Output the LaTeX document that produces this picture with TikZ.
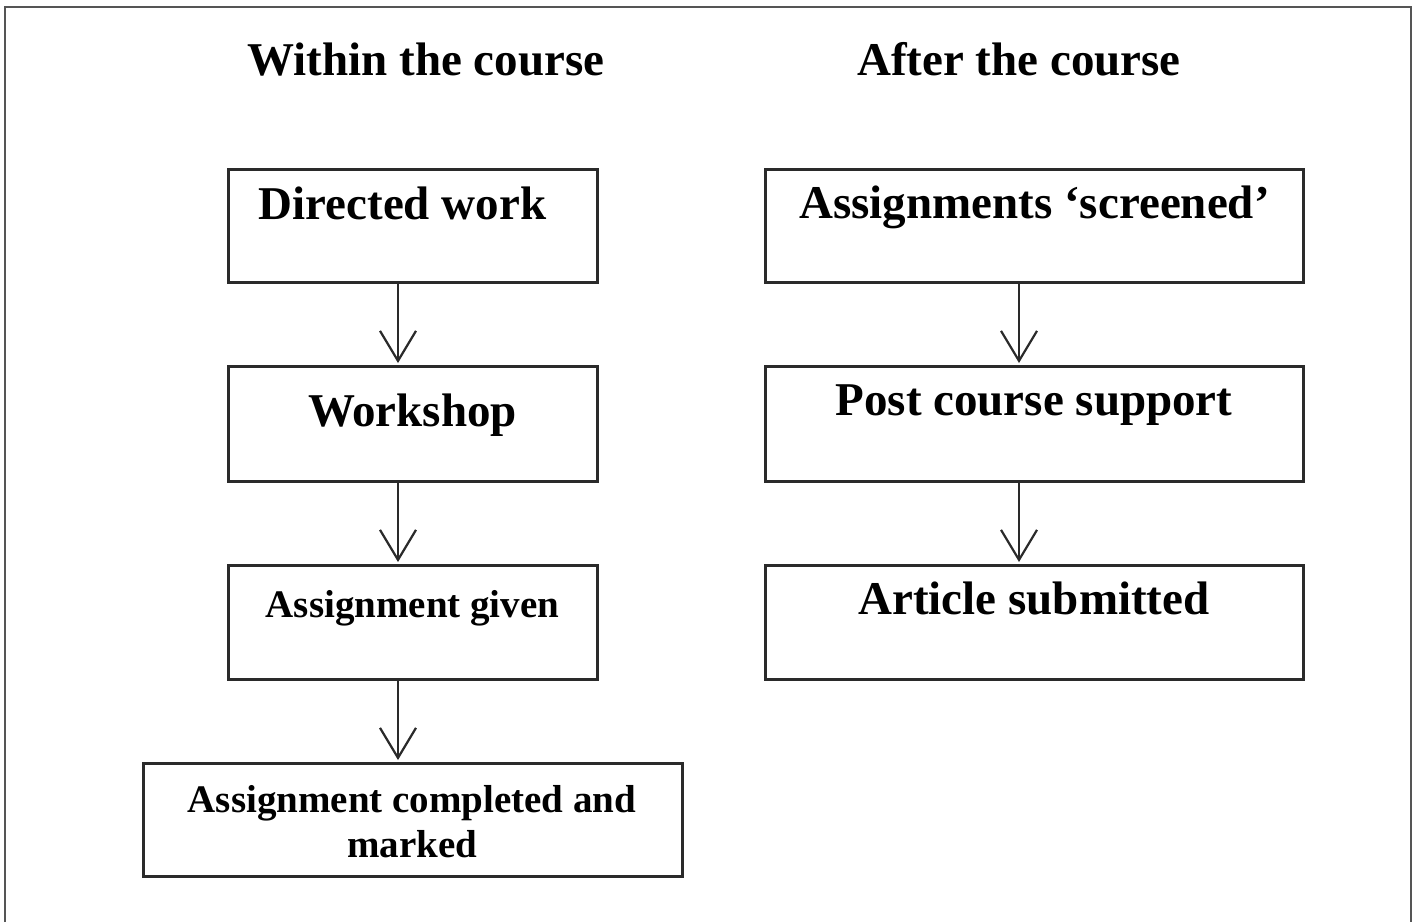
\documentclass[tikz,border=0pt]{standalone}
\usepackage{fontspec}
\setmainfont{Liberation Serif}
\usetikzlibrary{arrows.meta}
\definecolor{linec}{HTML}{2A2A2A}
\definecolor{framec}{HTML}{555555}
\tikzset{
  box/.style={draw=linec, line width=3pt, inner sep=0pt, fill=white},
  big/.style={anchor=base, inner sep=0pt, font=\bfseries\fontsize{47}{52}\selectfont},
  small/.style={anchor=base, inner sep=0pt, font=\bfseries\fontsize{39}{45}\selectfont},
  arr/.style={draw=linec, line width=2.2pt, -{Straight Barb[length=30pt,width=36pt,line width=2.2pt]}, shorten >=1.5pt}
}
\begin{document}
\begin{tikzpicture}[x=1pt,y=-1pt]
\useasboundingbox (0,0) rectangle (1414,922);
\fill[white] (0,0) rectangle (1414,922);
\draw[framec, line width=2pt] (5,922) -- (5,7) -- (1411,7) -- (1411,922);

% titles
\node[big] (t1) at (426,75) {Within the course};
\node[big] (t2) at (1019,75) {After the course};

% left column boxes
\node[box, minimum width=369pt, minimum height=113pt] (dw) at (412.5,225.5) {};
\node[box, minimum width=369pt, minimum height=115pt] (ws) at (412.5,423.5) {};
\node[box, minimum width=369pt, minimum height=114pt] (ag) at (412.5,622) {};
\node[box, minimum width=539pt, minimum height=113pt] (ac) at (412.5,819.5) {};

% right column boxes
\node[box, minimum width=538pt, minimum height=113pt] (sc) at (1034,225.5) {};
\node[box, minimum width=538pt, minimum height=115pt] (pc) at (1034,423.5) {};
\node[box, minimum width=538pt, minimum height=114pt] (as) at (1034,622) {};

% texts
\node[big] (dwt) at (402.5,219) {Directed work};
\node[big] (wst) at (412.5,426) {Workshop};
\node[small] (agt) at (412.5,617) {Assignment given};
\node[small] (act1) at (412,812) {Assignment completed and};
\node[small] (act2) at (412.5,857) {marked};
\node[big] (sct) at (1034.5,218) {Assignments ‘screened’};
\node[big] (pct) at (1034,415) {Post course support};
\node[big] (ast) at (1034,614) {Article submitted};

% arrow columns
\coordinate (lx) at (398,0);
\coordinate (rx) at (1019,0);

\draw[arr] (dw.south -| lx) -- (ws.north -| lx);
\draw[arr] (ws.south -| lx) -- (ag.north -| lx);
\draw[arr] (ag.south -| lx) -- (ac.north -| lx);
\draw[arr] (sc.south -| rx) -- (pc.north -| rx);
\draw[arr] (pc.south -| rx) -- (as.north -| rx);
\end{tikzpicture}
\end{document}
